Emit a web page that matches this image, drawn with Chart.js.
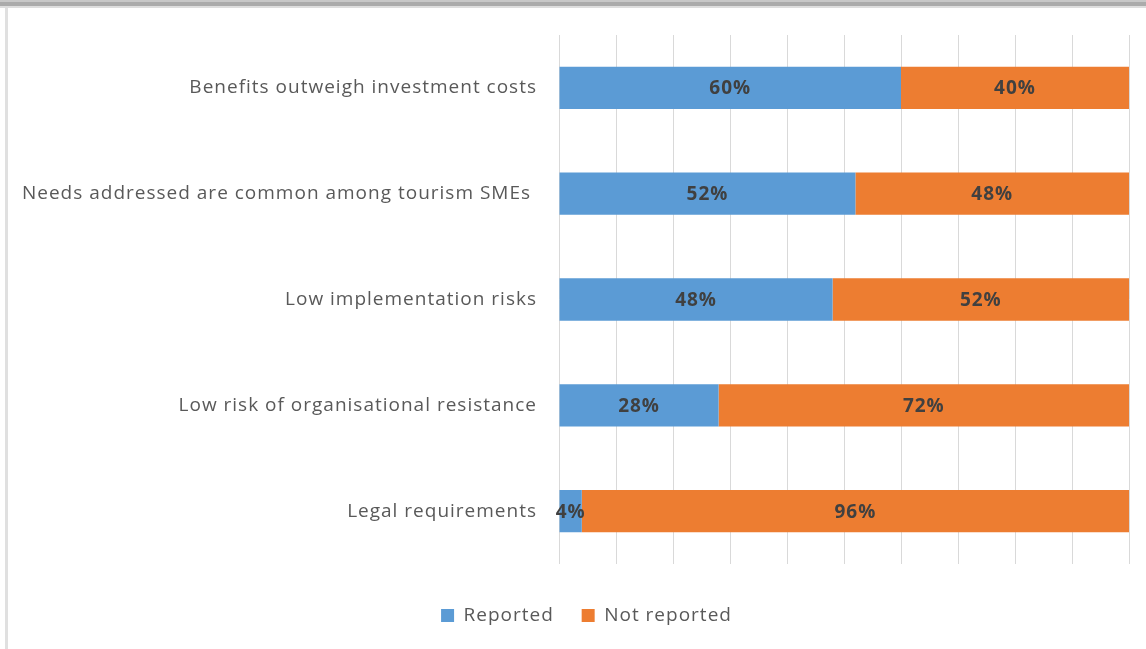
<!DOCTYPE html>
<html>
<head>
<meta charset="utf-8">
<script src="https://cdn.jsdelivr.net/npm/chart.js@4/dist/chart.umd.min.js"></script>
<style>
  html, body { margin: 0; padding: 0; background: #fff; }
  #wrap { position: relative; width: 1146px; height: 649px; overflow: hidden; background: #fff; }
  #topbar1 { position: absolute; left: 0; top: 0; width: 1146px; height: 2px; background: #c8c8c8; }
  #topbar2 { position: absolute; left: 0; top: 2px; width: 1146px; height: 4px; background: #ababab; }
  #topbar3 { position: absolute; left: 0; top: 6px; width: 1146px; height: 2px; background: #dedede; }
  #leftbar { position: absolute; left: 5px; top: 8px; width: 3px; height: 641px; background: #e0e0e0; }
  canvas { position: absolute; left: 0; top: 0; }
</style>
</head>
<body>
<div id="wrap">
  <canvas id="c" width="1146" height="649"></canvas>
  <div id="topbar1"></div><div id="topbar2"></div><div id="topbar3"></div>
  <div id="leftbar"></div>
</div>
<script>
const categories = [
  "Benefits outweigh investment costs",
  "Needs addressed are common among tourism SMEs ",
  "Low implementation risks",
  "Low risk of organisational resistance",
  "Legal requirements"
];
const reported = [0.60, 0.52, 0.48, 0.28, 0.04];
const notReported = [0.40, 0.48, 0.52, 0.72, 0.96];
const seriesNames = ["Reported", "Not reported"];
const seriesColors = ["#5B9BD5", "#ED7D31"];

const spacingPlugin = {
  id: 'spacing',
  beforeUpdate(chart) { chart.ctx.letterSpacing = '1px'; },
  beforeDraw(chart) { chart.ctx.letterSpacing = '1px'; },
  afterLayout(chart) {
    if (chart.legend) { chart.legend.left += 22; chart.legend.right += 22; }
  }
};

const labelPlugin = {
  id: 'barLabels',
  afterDatasetsDraw(chart) {
    const ctx = chart.ctx;
    ctx.save();
    ctx.font = 'bold 19px "Open Sans", sans-serif';
    ctx.fillStyle = '#404040';
    ctx.textAlign = 'center';
    ctx.textBaseline = 'middle';
    chart.data.datasets.forEach((ds, di) => {
      const meta = chart.getDatasetMeta(di);
      meta.data.forEach((bar, i) => {
        const v = ds.data[i];
        const x = (bar.x + bar.base) / 2;
        ctx.fillText(Math.round(v * 100) + '%', x, bar.y + 1);
      });
    });
    ctx.restore();
  }
};

new Chart(document.getElementById('c'), {
  type: 'bar',
  data: {
    labels: categories,
    datasets: [
      { label: seriesNames[0], data: reported, backgroundColor: seriesColors[0], categoryPercentage: 1, barPercentage: 0.40 },
      { label: seriesNames[1], data: notReported, backgroundColor: seriesColors[1], categoryPercentage: 1, barPercentage: 0.40 }
    ]
  },
  options: {
    responsive: false,
    animation: false,
    indexAxis: 'y',
    layout: { padding: { top: 35, right: 17, left: 0, bottom: 14 } },
    scales: {
      x: {
        stacked: true, min: 0, max: 1,
        ticks: { display: false, stepSize: 0.1 },
        grid: { color: '#d9d9d9', lineWidth: 1, drawTicks: false },
        border: { display: false },
        afterFit(scale) { scale.height = 32; }
      },
      y: {
        stacked: true,
        grid: { display: false, drawTicks: false },
        border: { display: false },
        ticks: { color: '#595959', font: { family: '"Open Sans", sans-serif', size: 19 }, padding: 22 },
        afterFit(scale) { scale.width = 559; }
      }
    },
    plugins: {
      legend: {
        position: 'bottom',
        labels: {
          color: '#595959',
          font: { family: '"Open Sans", sans-serif', size: 19 },
          boxWidth: 13, boxHeight: 13, padding: 10,
          generateLabels(chart) {
            const items = Chart.defaults.plugins.legend.labels.generateLabels(chart);
            items.forEach(it => { it.lineWidth = 0; });
            items[0].text = items[0].text + '   ';
            return items;
          }
        }
      },
      tooltip: { enabled: false }
    }
  },
  plugins: [spacingPlugin, labelPlugin]
});
</script>
</body>
</html>
